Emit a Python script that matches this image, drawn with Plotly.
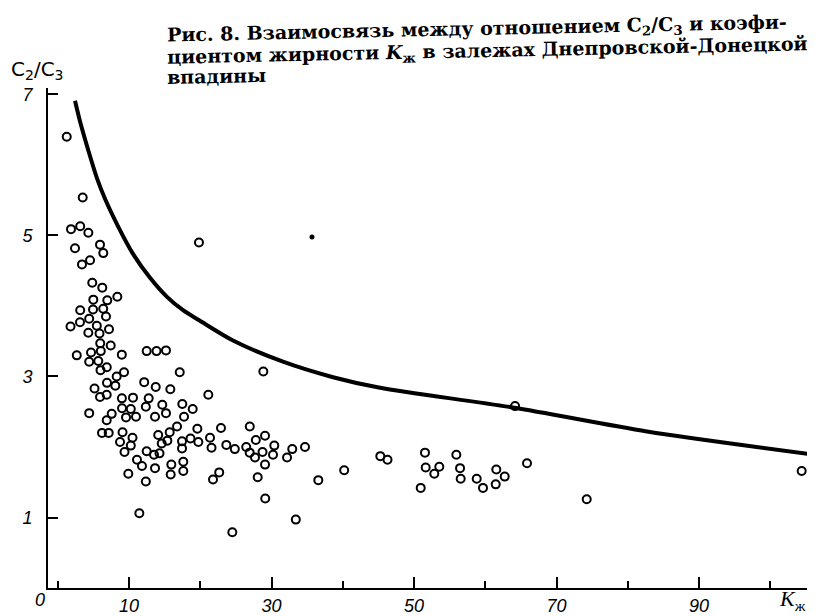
import plotly.graph_objects as go

# Scatter points: K_zh (x) and C2/C3 (y)
k_values = [1.26, 3.50, 1.86, 3.15, 4.29, 2.42, 5.93, 6.39, 3.40, 4.53,
            4.84, 6.25, 8.36, 4.99, 6.95, 3.15, 4.95, 6.38, 3.12, 4.41,
            6.77, 1.79, 5.48, 7.19, 4.29, 5.86, 5.96, 7.43, 2.67, 4.67,
            6.04, 8.99, 4.41, 5.69, 6.00, 6.88, 12.48, 13.86, 15.19, 17.12,
            8.27, 9.30, 6.91, 8.08, 12.13, 13.75, 15.80, 5.16, 5.93, 6.87,
            9.00, 10.56, 12.76, 12.36, 14.67, 17.48, 18.94, 4.41, 7.57, 6.87,
            9.02, 10.25, 9.58, 10.98, 13.65, 15.19, 17.72, 6.21, 7.15, 9.09,
            10.49, 8.74, 10.25, 9.37, 16.74, 15.71, 14.10, 14.59, 15.38, 17.44,
            17.44, 18.63, 19.59, 19.73, 12.48, 13.51, 14.28, 11.12, 11.82, 9.90,
            13.65, 15.94, 15.85, 17.62, 17.62, 12.36, 11.45, 19.82, 28.85, 21.13,
            22.91, 26.95, 21.37, 21.58, 23.66, 24.85, 26.45, 26.94, 27.80, 29.09,
            27.68, 28.74, 30.21, 30.39, 29.09, 32.18, 32.91, 34.70, 22.66, 21.79,
            28.06, 36.57, 40.20, 45.27, 46.28, 29.12, 33.41, 24.50, 64.18, 51.54,
            51.64, 52.85, 53.55, 50.94, 55.94, 56.46, 56.55, 58.80, 59.68, 61.55,
            62.73, 61.47, 65.86, 74.24, 104.41]
ratio_values = [6.40, 5.54, 5.09, 5.13, 5.04, 4.82, 4.87, 4.75, 4.59, 4.65,
                4.33, 4.26, 4.13, 4.09, 4.08, 3.94, 3.95, 3.96, 3.77, 3.82,
                3.85, 3.71, 3.72, 3.67, 3.62, 3.61, 3.47, 3.44, 3.30, 3.34,
                3.36, 3.31, 3.21, 3.22, 3.09, 3.13, 3.36, 3.36, 3.37, 3.06,
                3.00, 3.06, 2.91, 2.87, 2.92, 2.85, 2.82, 2.83, 2.71, 2.74,
                2.69, 2.70, 2.69, 2.57, 2.60, 2.61, 2.54, 2.48, 2.47, 2.38,
                2.55, 2.54, 2.42, 2.43, 2.43, 2.48, 2.43, 2.20, 2.20, 2.21,
                2.13, 2.07, 2.02, 1.93, 2.29, 2.21, 2.17, 2.05, 2.09, 2.08,
                1.98, 2.12, 2.26, 2.07, 1.94, 1.89, 1.91, 1.82, 1.73, 1.62,
                1.70, 1.75, 1.61, 1.79, 1.66, 1.51, 1.06, 4.90, 3.07, 2.74,
                2.27, 2.29, 2.13, 1.99, 2.03, 1.97, 2.00, 1.92, 2.10, 2.16,
                1.85, 1.93, 1.89, 2.02, 1.75, 1.85, 1.97, 2.00, 1.64, 1.54,
                1.57, 1.53, 1.67, 1.87, 1.82, 1.27, 0.97, 0.79, 2.58, 1.92,
                1.71, 1.62, 1.72, 1.42, 1.89, 1.70, 1.55, 1.55, 1.42, 1.68,
                1.58, 1.47, 1.77, 1.26, 1.66]

# Single filled dot
dot_k = [35.68]
dot_ratio = [4.98]

# Upper boundary curve
curve_k = [2.42, 3.12, 4.25, 5.51, 6.63, 8.46, 10.56, 12.95, 15.33, 17.58,
           19.96, 24.60, 31.61, 38.63, 45.23, 63.89, 82.70, 106.28]
curve_ratio = [6.91, 6.62, 6.22, 5.81, 5.52, 5.13, 4.74, 4.40, 4.13, 3.94,
               3.79, 3.51, 3.21, 2.99, 2.84, 2.56, 2.22, 1.89]

x_major_ticks = [10, 30, 50, 70, 90]
y_ticks = [1, 3, 5, 7]

title_lines = [
    "Рис. 8. Взаимосвязь между отношением C<sub>2</sub>/C<sub>3</sub> и коэфи-",
    "циентом жирности <i>K</i><sub>ж</sub> в залежах Днепровской-Донецкой",
    "впадины",
]

fig = go.Figure()
fig.add_trace(go.Scatter(
    x=curve_k, y=curve_ratio, mode="lines",
    line=dict(color="black", width=4, shape="spline", smoothing=0.8),
    hoverinfo="skip", showlegend=False))
fig.add_trace(go.Scatter(
    x=k_values, y=ratio_values, mode="markers",
    marker=dict(symbol="circle-open", size=8, color="black",
                line=dict(width=2, color="black")),
    showlegend=False))
fig.add_trace(go.Scatter(
    x=dot_k, y=dot_ratio, mode="markers",
    marker=dict(symbol="circle", size=5, color="black"),
    showlegend=False))

tick_font = dict(family="Liberation Sans", size=18, color="black", style="italic")

# The page body has an 8px margin, so the figure is 8px smaller than the window
FIG_W, FIG_H = 807, 608
fig.update_layout(
    width=FIG_W, height=FIG_H,
    margin=dict(l=40, r=0, t=80, b=28, autoexpand=False),
    paper_bgcolor="white", plot_bgcolor="white",
    showlegend=False,
    xaxis=dict(
        range=[-1.37, 106.28], showgrid=False, zeroline=False,
        showline=True, linecolor="black", linewidth=1.8,
        tickmode="array", tickvals=x_major_ticks,
        ticktext=[str(v) for v in x_major_ticks],
        ticks="inside", ticklen=11, tickwidth=1.5, tickcolor="black",
        tickfont=tick_font,
        minor=dict(tick0=0, dtick=10, ticks="inside",
                   ticklen=7, tickwidth=1.5, tickcolor="black", showgrid=False),
    ),
    yaxis=dict(
        range=[0, 7.092], showgrid=False, zeroline=False,
        showline=True, linecolor="black", linewidth=1.8,
        tickmode="array", tickvals=y_ticks,
        ticktext=[str(v) for v in y_ticks],
        ticks="inside", ticklen=10, tickwidth=1.5, tickcolor="black",
        tickfont=tick_font, ticklabelstandoff=10,
    ),
)

# screen pixel -> paper coordinates (plot area on screen: x 48..815, y 88..588)
def px_to_paper(px, py):
    return (px - 48) / 767.0, (588 - py) / 500.0


title_font = dict(family="DejaVu Serif", size=19, color="black", weight="bold")
for text, (lx, cy) in zip(title_lines, [(165, 30), (165, 52), (165, 76)]):
    px, py = px_to_paper(lx, cy)
    fig.add_annotation(xref="paper", yref="paper", x=px, y=py, text=text,
                       showarrow=False, xanchor="left", yanchor="middle",
                       font=title_font, textangle=-1.2)

# Axis labels
ax, ay = px_to_paper(37, 70)
fig.add_annotation(xref="paper", yref="paper", x=ax, y=ay,
                   xanchor="center", yanchor="middle",
                   text="C<sub>2</sub>/C<sub>3</sub>", showarrow=False,
                   font=dict(family="DejaVu Sans", size=20, color="black"))
kx, ky = px_to_paper(792, 600)
fig.add_annotation(xref="paper", yref="paper", x=kx, y=ky,
                   xanchor="center", yanchor="middle",
                   text="<i>K</i><sub>ж</sub>", showarrow=False,
                   font=dict(family="Liberation Serif", size=22, color="black"))
zx, zy = px_to_paper(40, 600)
fig.add_annotation(xref="paper", yref="paper", x=zx, y=zy,
                   xanchor="center", yanchor="middle",
                   text="0", showarrow=False, font=tick_font)

fig.write_html("out.html")
